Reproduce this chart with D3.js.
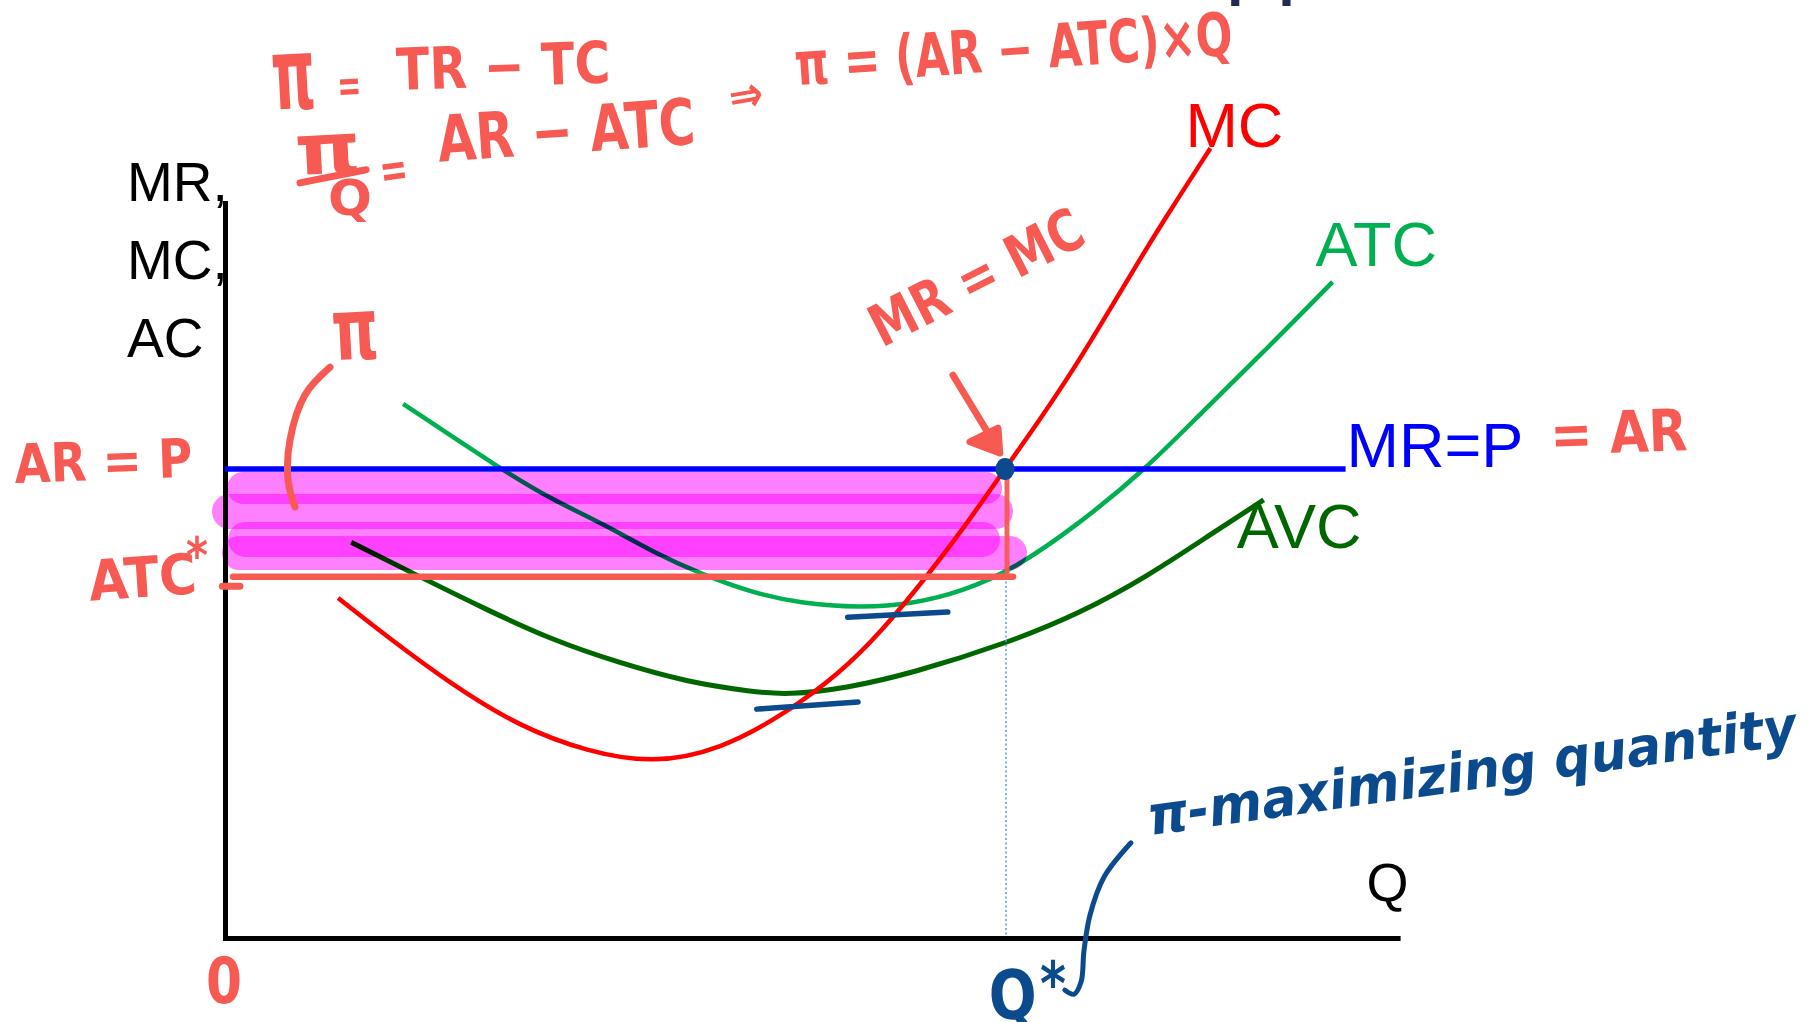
<!DOCTYPE html>
<html>
<head>
<meta charset="utf-8">
<script src="https://cdn.jsdelivr.net/npm/d3@7"></script>
<style>
  html, body { margin: 0; padding: 0; background: #fff; }
  svg { display: block; }
</style>
</head>
<body>
<svg id="chart" width="1812" height="1022"></svg>
<script>
// Short-run profit maximisation for a price-taking firm.
// Quantity Q on the horizontal axis, price / cost on the vertical axis.

const price = 10;        // MR = P = AR
const qStar = 6;         // profit-maximising output, where MR = MC
const atcStar = 7.7;     // average total cost at Q*
const mrEndQ = 8.62;     // right end of the MR line
const qAxisMax = 9.02;
const pAxisMax = 15.67;

// Marginal cost [Q, cost]
const mcPoints = [
  [0.87, 7.25], [1.25, 6.42], [1.75, 5.39], [2.27, 4.50], [2.79, 3.97],
  [3.29, 3.72], [3.81, 4.01], [4.32, 4.80], [4.73, 5.65], [5.04, 6.50],
  [5.42, 7.78], [5.71, 8.85], [6.00, 10.0], [6.25, 10.98], [6.49, 11.97],
  [6.69, 12.86], [7.02, 14.39], [7.21, 15.25], [7.58, 16.84]
];

// Average total cost [Q, cost]
const atcPoints = [
  [1.37, 11.39], [2.12, 10.0], [2.52, 9.34], [2.91, 8.83], [3.29, 8.23],
  [3.68, 7.74], [4.06, 7.36], [4.42, 7.14], [4.88, 7.04], [5.29, 7.12],
  [5.68, 7.40], [6.06, 7.85], [6.58, 8.85], [7.09, 10.02], [7.50, 11.17],
  [8.02, 12.58], [8.52, 13.99]
];

// Average variable cost [Q, cost]
const avcPoints = [
  [0.97, 8.44], [1.50, 7.70], [2.02, 6.99], [2.52, 6.35], [3.04, 5.86],
  [3.55, 5.46], [4.06, 5.25], [4.32, 5.18], [4.79, 5.33], [5.29, 5.65],
  [6.02, 6.29], [6.58, 6.93], [7.09, 7.70], [7.60, 8.64], [7.99, 9.34]
];

// Hand-drawn strokes, in the same [Q, price] units as the curves
const arrowShaft = [[5.60, 12.0], [5.946, 10.42]];
const arrowHead = [[5.73, 10.58], [5.946, 10.87], [5.96, 10.34]];
const profitBrace = [[0.808, 12.17], [0.615, 11.58], [0.50, 10.62], [0.485, 9.77], [0.538, 9.19]];
const fractionBar = [[0.577, 16.10], [1.085, 16.38]];
const atcTick = [[-0.02, 7.50], [0.115, 7.50]];
const atcMinMark = [[4.79, 6.84], [5.56, 6.95]];
const avcMinMark = [[4.09, 4.88], [4.87, 5.03]];
const quantityPointer = [[6.969, 2.03], [6.762, 1.30], [6.654, 0.49], [6.608, -0.26],
                         [6.585, -0.94], [6.53, -1.20], [6.46, -1.11]];

const coral = "#f65a53";
const ink = "#0c4a8e";

const svg = d3.select("#chart");
svg.append("rect").attr("width", 1812).attr("height", 1022).attr("fill", "#fff");

const x = d3.scaleLinear().domain([0, 10]).range([225, 1525]);
const y = d3.scaleLinear().domain([0, 20]).range([938, 0]);

const costLine = d3.line()
  .x(d => x(d[0])).y(d => y(d[1]))
  .curve(d3.curveBasis);
const smooth = d3.line()
  .x(d => x(d[0])).y(d => y(d[1]))
  .curve(d3.curveCatmullRom.alpha(0.5));
const straight = d3.line().x(d => x(d[0])).y(d => y(d[1]));

// Slide heading, mostly above the visible area
svg.append("text")
  .attr("x", 1225).attr("y", -13)
  .attr("font-family", "Liberation Sans, Arial, sans-serif")
  .attr("font-size", 92).attr("fill", "#222a55")
  .text("pp");

// Axes
const xAxisScale = d3.scaleLinear().domain([0, qAxisMax]).range([x(0), x(qAxisMax)]);
const yAxisScale = d3.scaleLinear().domain([0, pAxisMax]).range([y(0), y(pAxisMax)]);
const gx = svg.append("g").attr("transform", `translate(0,${y(0)})`)
  .call(d3.axisBottom(xAxisScale).tickValues([]).tickSizeOuter(0));
const gy = svg.append("g").attr("transform", `translate(${x(0)},0)`)
  .call(d3.axisLeft(yAxisScale).tickValues([]).tickSizeOuter(0));
[gx, gy].forEach(g => g.select(".domain")
  .attr("stroke", "#000").attr("stroke-width", 5).attr("stroke-linecap", "square"));

// Cost curves
svg.append("path").attr("d", costLine(avcPoints))
  .attr("fill", "none").attr("stroke", "#006600").attr("stroke-width", 5);
svg.append("path").attr("d", costLine(atcPoints))
  .attr("fill", "none").attr("stroke", "#00b050").attr("stroke-width", 4.5);
svg.append("path").attr("d", costLine(mcPoints))
  .attr("fill", "none").attr("stroke", "#ff0000").attr("stroke-width", 4.5);

// Profit rectangle, shaded with overlapping highlighter passes
const yTop = y(price), yBot = y(atcStar);
const passes = [
  { f: 0.176, h: 32, l: 2, r: -3 },
  { f: 0.394, h: 35, l: -13, r: 8 },
  { f: 0.653, h: 35, l: 3, r: -5 },
  { f: 0.778, h: 34, l: -3, r: 22 }
];
const shade = svg.append("g");
passes.forEach(s => {
  const cy = yTop + s.f * (yBot - yTop);
  shade.append("line")
    .attr("x1", x(0) + s.l + s.h / 2).attr("x2", x(qStar) + s.r - s.h / 2)
    .attr("y1", cy).attr("y2", cy)
    .attr("stroke", "#ff80ff").attr("stroke-width", s.h)
    .attr("stroke-linecap", "round")
    .style("mix-blend-mode", "multiply");
});

// Guide from the optimum down to the quantity axis
svg.append("line")
  .attr("x1", x(qStar) + 1).attr("x2", x(qStar) + 1)
  .attr("y1", y(price)).attr("y2", y(0) - 3)
  .attr("stroke", "#5b9bd5").attr("stroke-width", 1.5)
  .attr("stroke-dasharray", "2,2.5");

// MR = P = AR
svg.append("line")
  .attr("x1", x(0)).attr("x2", x(mrEndQ))
  .attr("y1", y(price)).attr("y2", y(price))
  .attr("stroke", "#0000ff").attr("stroke-width", 5.5);

// ATC* level and the height of the profit box
svg.append("line")
  .attr("x1", x(0) + 8).attr("x2", x(qStar) + 8)
  .attr("y1", y(atcStar)).attr("y2", y(atcStar))
  .attr("stroke", coral).attr("stroke-width", 6.5).attr("stroke-linecap", "round");
svg.append("line")
  .attr("x1", x(qStar) + 2).attr("x2", x(qStar) + 2)
  .attr("y1", y(price) + 10).attr("y2", y(atcStar))
  .attr("stroke", coral).attr("stroke-width", 5).attr("opacity", 0.92);

// MR = MC point
svg.append("ellipse")
  .attr("cx", x(qStar)).attr("cy", y(price))
  .attr("rx", 9.5).attr("ry", 11).attr("fill", "#0b4a8c");

// Curve labels
const labelFont = "Liberation Sans, Arial, sans-serif";
const last = a => a[a.length - 1];
const curveLabels = [
  { t: "MC", at: last(mcPoints), dx: -25, dy: -1, c: "#ff0000" },
  { t: "ATC", at: last(atcPoints), dx: -17, dy: -16, c: "#00b050" },
  { t: "MR=P", at: [mrEndQ, price], dx: 1, dy: -2, c: "#0000ff" },
  { t: "AVC", at: last(avcPoints), dx: -27, dy: 48, c: "#006600" }
];
curveLabels.forEach(l => {
  svg.append("text")
    .attr("x", x(l.at[0]) + l.dx).attr("y", y(l.at[1]) + l.dy)
    .attr("font-family", labelFont).attr("font-size", 63)
    .attr("fill", l.c).text(l.t);
});

// Axis titles
const axisTop = yAxisScale(pAxisMax);
[["MR,", -2], ["MC,", 76], ["AC", 154]].forEach(([t, dy]) => {
  svg.append("text")
    .attr("x", x(0) - 98).attr("y", axisTop + dy)
    .attr("font-family", labelFont).attr("font-size", 55)
    .attr("fill", "#000").text(t);
});
svg.append("text")
  .attr("x", x(qAxisMax) - 31).attr("y", y(0) - 37)
  .attr("font-family", labelFont).attr("font-size", 54)
  .attr("fill", "#000").text("Q");

// Pen strokes
const penStroke = (pts, color, w, gen) => svg.append("path")
  .attr("d", (gen || straight)(pts)).attr("fill", "none")
  .attr("stroke", color).attr("stroke-width", w)
  .attr("stroke-linecap", "round").attr("stroke-linejoin", "round");

penStroke(arrowShaft, coral, 7);
svg.append("path").attr("d", straight(arrowHead) + "Z")
  .attr("fill", coral).attr("stroke", coral).attr("stroke-width", 7)
  .attr("stroke-linejoin", "round");
penStroke(profitBrace, coral, 7, smooth);
penStroke(fractionBar, coral, 7);
penStroke(atcTick, coral, 7);
penStroke(atcMinMark, ink, 5.5);
penStroke(avcMinMark, ink, 5.5);
penStroke(quantityPointer, ink, 5, smooth);

// Handwritten notes
const hand = "DejaVu Sans, Verdana, sans-serif";
const notes = [
  { t: "π", q: 0.369, p: 17.66, size: 100, len: 44, rot: -3, c: coral },
  { t: "=", q: 0.869, p: 17.83, size: 46, len: 24, rot: -3, c: coral },
  { t: "TR − TC", q: 1.323, p: 18.08, size: 58, len: 214, rot: -2, c: coral },
  { t: "π", q: 0.546, p: 16.27, size: 70, len: 66, rot: -3, c: coral },
  { t: "Q", q: 0.792, p: 15.42, size: 50, len: 44, rot: 0, c: coral },
  { t: "=", q: 1.208, p: 15.99, size: 48, len: 28, rot: -8, c: coral },
  { t: "AR − ATC", q: 1.646, p: 16.55, size: 64, len: 258, rot: -4, c: coral },
  { t: "⇒", q: 3.90, p: 17.55, size: 50, len: 34, rot: -10, c: coral },
  { t: "π = (AR − ATC)×Q", q: 4.392, p: 18.18, size: 60, len: 439, rot: -4, c: coral },
  { t: "MR = MC", q: 5.054, p: 12.58, size: 58, len: 232, rot: -27, c: coral },
  { t: "π", q: 0.831, p: 12.32, size: 86, len: 47, rot: -3, c: coral },
  { t: "AR = P", q: -1.615, p: 9.70, size: 54, len: 178, rot: -2, c: coral },
  { t: "ATC", q: -1.038, p: 7.19, size: 56, len: 108, rot: -4, c: coral },
  { t: "*", q: -0.30, p: 7.78, size: 50, len: 22, rot: 0, c: coral },
  { t: "= AR", q: 10.20, p: 10.30, size: 58, len: 137, rot: -2, c: coral },
  { t: "0", q: -0.146, p: -1.386, size: 64, len: 36, rot: 0, c: coral },
  { t: "Q", q: 5.885, p: -1.748, size: 68, len: 48, rot: -3, c: ink },
  { t: "*", q: 6.27, p: -1.43, size: 60, len: 26, rot: 0, c: ink },
  { t: "π-maximizing quantity", q: 7.115, p: 2.196, size: 54, len: 655, rot: -8, c: ink, it: true }
];
notes.forEach(n => {
  svg.append("text")
    .attr("transform", `translate(${x(n.q)},${y(n.p)}) rotate(${n.rot})`)
    .attr("font-family", hand).attr("font-weight", "bold")
    .attr("font-style", n.it ? "italic" : "normal")
    .attr("font-size", n.size)
    .attr("textLength", n.len).attr("lengthAdjust", "spacingAndGlyphs")
    .attr("fill", n.c).text(n.t);
});
</script>
</body>
</html>
